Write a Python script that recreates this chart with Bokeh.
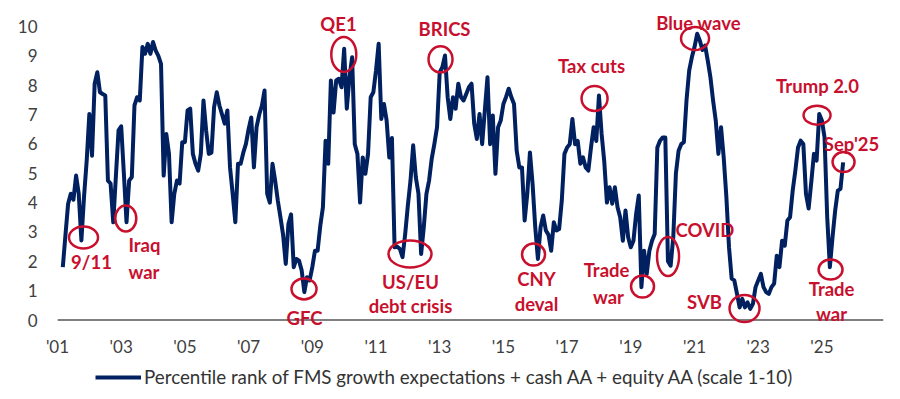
import numpy as np
from bokeh.plotting import figure
from bokeh.layouts import column
from bokeh.models import Range1d, FixedTicker, Span, Legend, LegendItem
from bokeh.core.properties import value
from bokeh.embed import file_html
from bokeh.resources import INLINE

# ---------------- data (monthly, Mar 2001 .. Sep 2025) ----------------
start_year, start_month = 2001, 3
v2001 = [1.8, 2.9, 3.96, 4.3, 4.1, 4.92, 4.3, 2.71, 4.2, 5.43]
v2002 = [7.02, 5.6, 8.05, 8.44, 7.76, 7.7, 7.65, 4.75, 4.65, 3.33, 4.9, 6.46]
v2003 = [6.6, 5.0, 3.33, 4.75, 4.87, 7.31, 7.59, 7.48, 9.3, 9.07, 9.41, 9.07]
v2004 = [9.47, 9.18, 9.0, 8.73, 4.92, 6.34, 5.66, 3.33, 4.3, 4.75, 4.65, 6.06]
v2005 = [6.06, 7.14, 7.2, 5.66, 5.32, 5.09, 5.66, 7.48, 6.46, 5.66, 5.7, 7.25]
v2006 = [7.76, 7.31, 7.0, 6.69, 7.14, 5.2, 4.3, 3.33, 5.32, 5.32, 5.7, 6.0]
v2007 = [6.5, 6.9, 5.2, 6.57, 7.0, 7.3, 7.82, 4.3, 4.0, 5.32, 4.75, 4.07]
v2008 = [3.5, 2.9, 1.91, 3.27, 3.6, 1.8, 2.08, 2.02, 1.69, 0.95, 1.46, 1.35]
v2009 = [1.8, 2.36, 2.36, 3.2, 3.84, 6.11, 5.32, 8.16, 7.07, 8.16, 8.22, 7.93]
v2010 = [9.24, 7.2, 8.27, 8.95, 5.99, 5.66, 4.0, 5.54, 4.98, 5.66, 7.59, 7.76]
v2011 = [8.5, 9.41, 6.85, 7.36, 6.8, 5.54, 6.2, 2.48, 2.5, 2.42, 2.14, 2.93]
v2012 = [3.9, 4.75, 5.95, 4.87, 4.3, 2.25, 3.16, 4.3, 4.75, 5.5, 6.0, 6.57]
v2013 = [8.44, 8.61, 9.01, 7.59, 6.85, 7.59, 7.2, 8.05, 7.6, 7.48, 7.7, 7.93]
v2014 = [8.05, 6.69, 6.17, 7.02, 5.99, 7.14, 8.27, 5.99, 6.97, 4.98, 6.57, 6.8]
v2015 = [7.36, 7.6, 7.88, 7.59, 7.36, 5.77, 5.2, 5.2, 3.39, 4.3, 5.71, 4.63]
v2016 = [3.16, 2.08, 3.16, 3.56, 3.05, 2.9, 2.36, 3.33, 3.05, 3.1, 4.07, 5.66]
v2017 = [5.88, 5.99, 6.85, 5.99, 6.1, 5.32, 5.54, 5.2, 5.09, 5.88, 6.57, 6.1]
v2018 = [7.65, 6.34, 5.4, 4.0, 4.52, 3.96, 4.52, 3.84, 3.5, 2.7, 3.73, 2.82]
v2019 = [2.48, 2.7, 3.61, 4.24, 1.12, 2.36, 1.57, 2.36, 2.7, 2.93, 5.88, 6.11]
v2020 = [6.22, 6.22, 2.0, 1.85, 2.82, 5.0, 5.77, 5.99, 6.06, 7.5, 8.5, 8.95]
v2021 = [9.3, 9.75, 9.52, 9.2, 9.35, 8.84, 8.27, 7.48, 6.8, 5.66, 6.57, 5.54]
v2022 = [4.2, 2.48, 1.41, 1.35, 0.9, 0.43, 0.72, 0.43, 0.6, 0.38, 0.55, 1.12]
v2023 = [1.35, 1.57, 1.12, 0.95, 0.89, 1.12, 1.24, 2.19, 1.8, 2.7, 2.53, 3.39]
v2024 = [3.5, 4.41, 5.09, 5.88, 6.11, 6.0, 4.3, 3.8, 4.7, 5.66, 5.43, 7.02]
v2025 = [6.8, 6.22, 3.5, 1.8, 2.82, 3.73, 4.41, 4.47, 5.37]

series_name = "Percentile rank of FMS growth expectations + cash AA + equity AA (scale 1-10)"

tick_years = [2001, 2003, 2005, 2007, 2009, 2011, 2013, 2015, 2017, 2019, 2021, 2023, 2025]
tick_labels = ["'01", "'03", "'05", "'07", "'09", "'11", "'13", "'15", "'17", "'19", "'21", "'23", "'25"]
y_ticks = [0, 1, 2, 3, 4, 5, 6, 7, 8, 9, 10]

# ---------------- annotations ----------------
circ_x = [2001.817, 2003.144, 2008.74, 2009.989, 2012.068, 2013.026, 2015.946, 2017.862,
          2019.368, 2020.169, 2021.017, 2022.571, 2024.848, 2025.68, 2025.272]
circ_y = [2.81, 3.46, 1.06, 9.05, 2.25, 8.88, 2.23, 7.55, 1.14, 2.16, 9.59, 0.39, 6.98, 5.38, 1.72]
circ_w = [29, 21, 25, 25, 43, 24, 23, 26, 23, 22, 28, 30, 27, 22, 24]
circ_h = [22, 26, 21, 35, 27, 26, 22, 25, 22, 39, 23, 27, 19, 20, 20]

lab_c_text = ["9/11", "GFC", "QE1", "US/EU", "debt crisis", "BRICS", "CNY", "deval", "Tax cuts",
              "Trade", "war", "Blue wave", "SVB", "Trump 2.0", "Sep'25", "Trade", "war"]
lab_c_x = [2002.068, 2008.756, 2009.823, 2012.084, 2012.084, 2013.152, 2016.04, 2016.04, 2017.767,
           2018.238, 2018.30, 2021.127, 2021.315, 2024.863, 2025.93, 2025.303, 2025.303]
lab_c_y = [1.96, 0.085, 10.07, 1.31, 0.46, 9.93, 1.38, 0.53, 8.64,
           1.69, 0.80, 10.12, 0.61, 7.97, 6.01, 1.04, 0.22]
lab_l_text = ["Iraq", "war", "COVID"]
lab_l_x = [2003.229, 2003.229, 2020.405]
lab_l_y = [2.54, 1.65, 3.07]

# ---------------- build ----------------
values = (v2001 + v2002 + v2003 + v2004 + v2005 + v2006 + v2007 + v2008 + v2009 + v2010 +
          v2011 + v2012 + v2013 + v2014 + v2015 + v2016 + v2017 + v2018 + v2019 + v2020 +
          v2021 + v2022 + v2023 + v2024 + v2025)
x = start_year + (np.arange(len(values)) + (start_month - 1)) / 12.0

NAVY = "#002060"
RED = "#C8102E"
GREY_TXT = "#404040"
FONT = "Lato"

p1 = figure(width=900, height=360, output_backend="svg", toolbar_location=None,
            x_range=Range1d(2001.0, 2026.934), y_range=Range1d(-0.494, 10.613),
            min_border_left=57, min_border_right=17, min_border_top=8, min_border_bottom=26)
p1.outline_line_color = None
p1.xgrid.visible = False
p1.ygrid.visible = False
p1.background_fill_color = "white"
p1.border_fill_color = "white"

p1.add_layout(Span(location=0, dimension="width", line_color="#7f7f7f", line_width=2, level="underlay"))

p1.line(x, values, line_color=NAVY, line_width=4, line_join="round")

p1.ellipse(x=circ_x, y=circ_y, width=circ_w, height=circ_h, width_units="screen", height_units="screen",
           fill_color=None, line_color=RED, line_width=2.5)

p1.text(x=lab_c_x, y=lab_c_y, text=lab_c_text, text_align="center", text_baseline="middle",
        text_font=value(FONT), text_font_style="bold", text_font_size="18.5px", text_color=RED)
p1.text(x=lab_l_x, y=lab_l_y, text=lab_l_text, text_align="left", text_baseline="middle",
        text_font=value(FONT), text_font_style="bold", text_font_size="18.5px", text_color=RED)

for ax in (p1.xaxis, p1.yaxis):
    ax.axis_line_color = None
    ax.major_tick_line_color = None
    ax.minor_tick_line_color = None
    ax.major_tick_out = 0
    ax.major_tick_in = 0
    ax.minor_tick_out = 0
    ax.major_label_text_font = FONT
    ax.major_label_text_font_size = "17px"
    ax.major_label_text_color = GREY_TXT

p1.xaxis.ticker = FixedTicker(ticks=tick_years)
p1.xaxis.major_label_overrides = {yr: lb for yr, lb in zip(tick_years, tick_labels)}
p1.xaxis.major_label_standoff = 1
p1.yaxis.ticker = FixedTicker(ticks=y_ticks)
p1.yaxis.major_label_standoff = 20

# legend strip (second figure; its line sits outside its own ranges, only the legend shows)
p2 = figure(width=900, height=39, output_backend="svg", toolbar_location=None,
            x_range=Range1d(0, 1), y_range=Range1d(0, 1), x_axis_type=None, y_axis_type=None,
            min_border_left=0, min_border_right=0, min_border_top=0, min_border_bottom=0)
p2.outline_line_color = None
p2.background_fill_color = "white"
p2.border_fill_color = "white"
r2 = p2.line(x, values, line_color=NAVY, line_width=4)
legend = Legend(items=[LegendItem(label=series_name, renderers=[r2])], location=(38, 11),
                glyph_width=46, glyph_height=20, label_standoff=3, padding=0, margin=0,
                border_line_color=None, background_fill_alpha=0,
                label_text_font=FONT, label_text_font_size="18.8px", label_text_color="#333333")
p2.add_layout(legend)

p = column(p1, p2, spacing=0)
open("out.html", "w").write(file_html(p, INLINE))
